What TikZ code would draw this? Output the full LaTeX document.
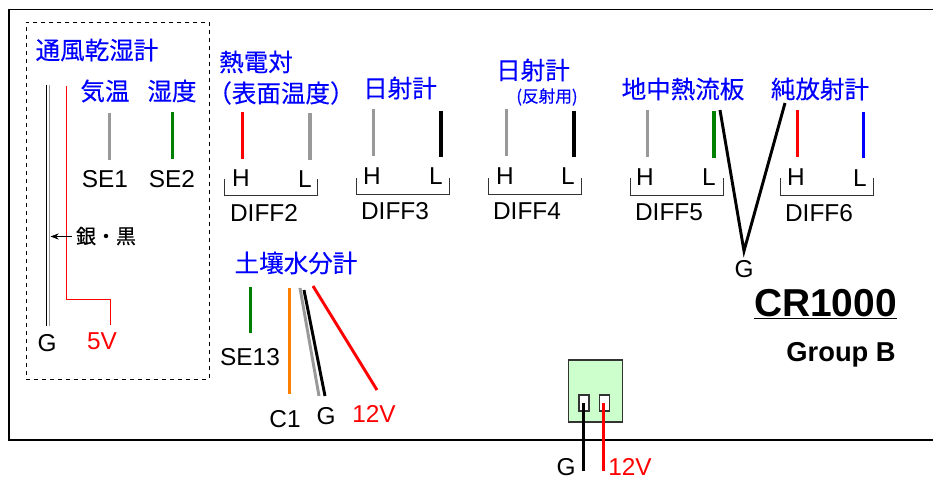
\documentclass[tikz,border=0pt]{standalone}
\usepackage{fontspec}
\setmainfont{Liberation Sans}
\newfontfamily\jpfont[FakeBold=0.25]{Noto Sans CJK JP}
\usetikzlibrary{arrows.meta}

\tikzset{
  title/.style={inner sep=0pt, text=blue, font=\jpfont\fontsize{18.4}{18.4}\selectfont},
  subtitle/.style={inner sep=0pt, text=blue, font=\jpfont\fontsize{12.5}{12.5}\selectfont},
  label/.style={inner sep=0pt, font=\fontsize{18.3}{18.3}\selectfont},
  power/.style={label, text=red},
  bracket/.style={draw=black!80, line width=0.7pt},
  wire/.style={line width=2.2pt},
  pin/.style={draw=black!80, fill=white, line width=0.8pt, minimum width=7.5pt, minimum height=12pt, inner sep=0pt}
}

\begin{document}
\begin{tikzpicture}[x=0.75pt, y=-0.75pt, >=Stealth]
  \useasboundingbox (0,0) rectangle (933,480);

  % logger frame and the dashed box
  \draw[line width=1.2pt] (934,9.5) -- (9,9.5) -- (9,440) -- (934,440);
  \node[draw, dashed, line width=0.7pt, minimum width=137.25pt, minimum height=267.75pt, inner sep=0pt] (psychro) at (117.5,200.5) {};

  % titles
  \node[title] (ttl1) at (97,50) {通風乾湿計};
  \node[title] (ttl2) at (105,91) {気温};
  \node[title] (ttl3) at (172,91) {湿度};
  \node[title] (ttl4) at (256,62) {熱電対};
  \node[title] (ttl5) at (281,93) {（表面温度）};
  \node[title] (ttl6) at (400,88) {日射計};
  \node[title] (ttl7) at (533,70) {日射計};
  \node[subtitle] (ttl8) at (547,97) {(反射用)};
  \node[title] (ttl9) at (683,89) {地中熱流板};
  \node[title] (ttl10) at (820,89) {純放射計};
  \node[title] (ttl11) at (296,263) {土壤水分計};

  % plain labels
  \foreach \nm/\px/\py/\txt in {se1/105/179/SE1, se2/172/179/SE2, h2/241/178/H, l2/305/179/L,
      d2/264/213/DIFF2, h3/372/176/H, l3/436/176/L, d3/395/211/DIFF3, h4/505/176/H, l4/568/176/L,
      d4/527/211/DIFF4, h5/645/177/H, l5/709/177/L, d5/669/212/DIFF5, h6/796/177/H, l6/860/178/L,
      d6/819/213/DIFF6, gv/744/269/G, se13/250/357/SE13, c1/285/419/C1, gs/326/416/G,
      gd/47/343/G, gp/566/467/G}
    \node[label] (\nm) at (\px,\py) {\txt};
  \node[power] (v5) at (102,341) {5V};
  \node[power] (v12s) at (374,414) {12V};
  \node[power] (v12p) at (630,467) {12V};
  \node[inner sep=0pt, font=\jpfont\fontsize{15}{15}\selectfont] (agbk) at (106,236) {銀・黒};
  \node[inner sep=0pt, anchor=base, font=\bfseries\fontsize{29.2}{29.2}\selectfont] (cr) at (825.5,316) {\underline{CR1000}};
  \node[inner sep=0pt, anchor=base east, font=\bfseries\fontsize{20.5}{20.5}\selectfont] (grp) at (896,361.5) {Group B};

  % straight wires
  \foreach \nm/\xa/\ya/\xb/\yb/\col/\lw in {
      se1w/109.5/113/109.5/160/black!40/2.2pt, se2w/172.5/112/172.5/159/green!50!black/2.2pt,
      h2w/242.5/112/242.5/159/red/2.2pt, l2w/309.5/113/309.5/160/black!40/3pt,
      h3w/373.5/109/373.5/156/black!40/2.2pt, l3w/440.5/111/440.5/157/black/3pt,
      h4w/506.5/109/506.5/156/black!40/2.2pt, l4w/573.5/111/573.5/157/black/3pt,
      h5w/647.5/110/647.5/157/black!40/2.2pt, l5w/713.5/111/713.5/158/green!50!black/3pt,
      h6w/797.5/110/797.5/157/red/2.2pt, l6w/863.5/112/863.5/158/blue/2.2pt,
      se13w/250.5/287/250.5/333/green!50!black/2.2pt, c1w/289.5/288/289.5/394/orange/2.2pt,
      gsw/300/288/319/396/black!40/2.2pt, bsw/304/290/325/396/black/2.2pt, v12w/313/286/377/390/red/2.2pt}
  {
    \coordinate (\nm a) at (\xa,\ya);
    \coordinate (\nm b) at (\xb,\yb);
    \draw[\col, line width=\lw] (\nm a) -- (\nm b);
  }

  % shared ground of DIFF5, DIFF6
  \coordinate (vl) at (720,110);
  \coordinate (vb) at (744,251);
  \coordinate (vr) at (785,103);
  \draw[wire] (vl) -- (vb) -- (vr);

  % DIFF brackets
  \foreach \nm/\xa/\xb/\ya/\yb in {b2/224.5/317.5/179/195.5, b3/356.5/449.5/178/194.5, b4/488.5/581.5/178/194.5,
      b5/630.5/723.5/178/195.5, b6/780.5/873.5/178/195.5}
  {
    \coordinate (\nm a) at (\xa,\ya);
    \coordinate (\nm b) at (\xb,\ya);
    \draw[bracket] (\nm a) -- (\xa,\yb) -- (\xb,\yb) -- (\nm b);
  }

  % psychrometer cable
  \coordinate (blkt) at (46.5,85);
  \coordinate (blkb) at (46.5,326);
  \coordinate (gryt) at (49.5,85);
  \coordinate (gryb) at (49.5,326);
  \coordinate (redt) at (66.5,86);
  \coordinate (redb) at (110.5,325);
  \draw[line width=0.8pt] (blkt) -- (blkb);
  \draw[line width=0.8pt, black!40] (gryt) -- (gryb);
  \draw[line width=0.8pt, red] (redt) |- (110.5,299.5) -- (redb);
  \coordinate (agtip) at (50.5,236.5);
  \draw[->, line width=0.7pt] (72,236.5) -- (agtip);

  % power connector
  \node[draw=black!80, fill=green!20, line width=0.8pt, minimum width=41pt, minimum height=46.5pt, inner sep=0pt] (conn) at (595.5,391) {};
  \node[pin] (pinb) at (584,403) {};
  \node[pin] (pinr) at (604.5,403) {};
  \coordinate (pbe) at (583.5,471);
  \coordinate (pre) at (603.5,471);
  \coordinate (pbs) at (583.5,403);
  \coordinate (prs) at (603.5,403);
  \draw[wire] (pbs) -- (pbe);
  \draw[wire, red] (prs) -- (pre);
\end{tikzpicture}
\end{document}
